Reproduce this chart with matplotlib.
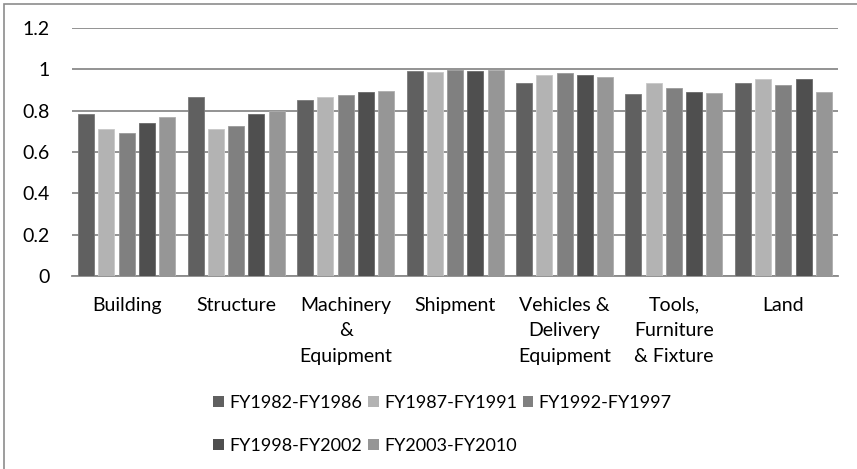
import numpy as np
import matplotlib
matplotlib.use('Agg')
import matplotlib.pyplot as plt
from matplotlib.patches import Rectangle

plt.rcParams['font.family'] = ['Lato', 'DejaVu Sans']

categories = ['Building', 'Structure', 'Machinery\n&\nEquipment', 'Shipment',
              'Vehicles &\nDelivery\nEquipment', 'Tools,\nFurniture\n& Fixture', 'Land']
periods = ['FY1982-FY1986', 'FY1987-FY1991', 'FY1992-FY1997', 'FY1998-FY2002', 'FY2003-FY2010']
fy1982_1986 = [0.782, 0.866, 0.850, 0.993, 0.932, 0.882, 0.934]
fy1987_1991 = [0.714, 0.714, 0.866, 0.987, 0.971, 0.932, 0.953]
fy1992_1997 = [0.690, 0.724, 0.874, 0.997, 0.982, 0.908, 0.927]
fy1998_2002 = [0.743, 0.782, 0.890, 0.993, 0.974, 0.890, 0.955]
fy2003_2010 = [0.772, 0.798, 0.895, 0.998, 0.963, 0.884, 0.890]
series = [fy1982_1986, fy1987_1991, fy1992_1997, fy1998_2002, fy2003_2010]
colors = ['#606060', '#b3b3b3', '#808080', '#4f4f4f', '#969696']
edges = ['#7a7a7a', '#c8c8c8', '#9a9a9a', '#6a6a6a', '#aeaeae']

fig = plt.figure(figsize=(8.57, 4.69), dpi=100)
ax = fig.add_axes([0.084, 0.4115, 0.894, 0.5285])

x = np.arange(len(categories))
slot = 0.185
bw = 0.146
handles = []
for i, vals in enumerate(series):
    h = ax.bar(x + (i - 2) * slot, vals, bw, color=colors[i], edgecolor=edges[i],
               linewidth=0.6, label=periods[i], zorder=3)
    handles.append(h)

ax.set_xlim(-0.5, len(categories) - 0.5)
ax.set_ylim(0, 1.2)
ax.set_yticks([0, 0.2, 0.4, 0.6, 0.8, 1.0, 1.2])
ax.set_yticklabels(['0', '0.2', '0.4', '0.6', '0.8', '1', '1.2'], fontsize=14)
ax.set_xticks(x)
ax.set_xticklabels(categories, fontsize=14, linespacing=1.6, va='top')
ax.tick_params(length=0)
ax.tick_params(axis='y', pad=16)
ax.tick_params(axis='x', pad=15)
ax.grid(axis='y', color='#8a8a8a', linewidth=1.3, zorder=0)
for s in ['left', 'right', 'top']:
    ax.spines[s].set_visible(False)
ax.spines['bottom'].set_color('#8a8a8a')
ax.spines['bottom'].set_linewidth(1.3)

order = [0, 3, 1, 4, 2]
leg = fig.legend([handles[k] for k in order], [periods[k] for k in order], ncol=3,
                 loc='upper left', bbox_to_anchor=(0.249, 0.158), frameon=False,
                 fontsize=13, handlelength=0.6, handleheight=0.6, handletextpad=0.3,
                 columnspacing=0.3, labelspacing=1.5, borderpad=0, borderaxespad=0)
for p in leg.get_patches():
    p.set_linewidth(0)

fig.patches.append(Rectangle((4 / 857, -0.1), 2, 1 - 4 / 469 + 0.1, transform=fig.transFigure,
                             fill=False, edgecolor='#8c8c8c', linewidth=1.2))

fig.savefig('out.png', dpi=100)
